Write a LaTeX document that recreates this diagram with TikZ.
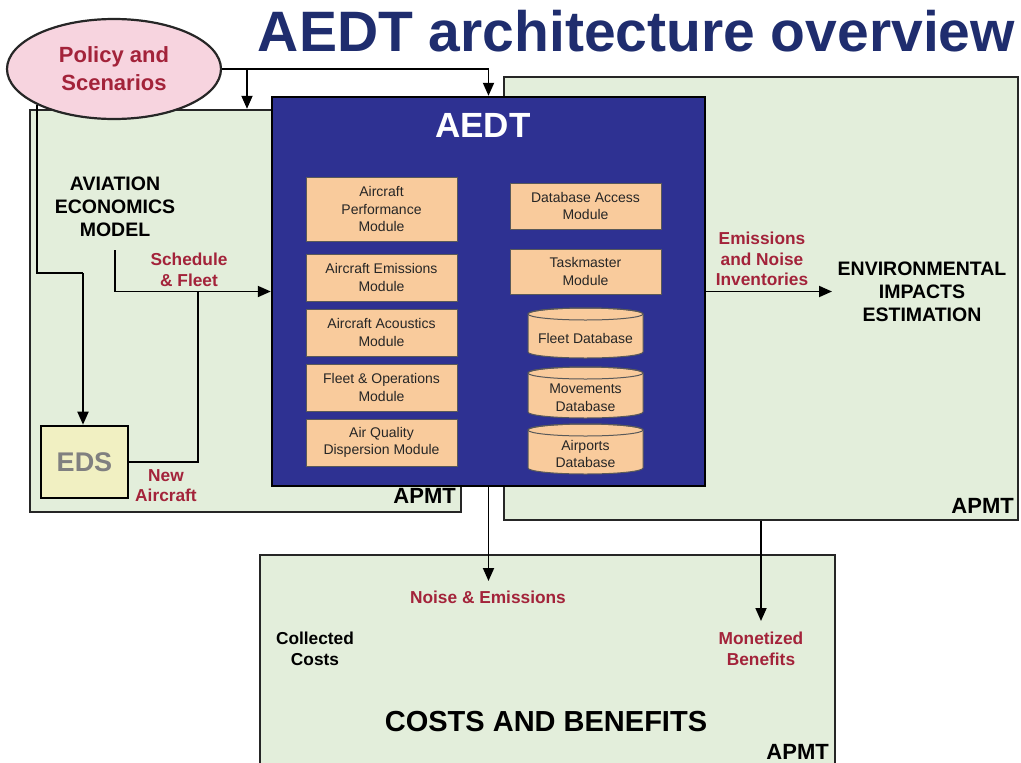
\documentclass[tikz,border=0pt]{standalone}
\usepackage{fontspec}
\setmainfont{Liberation Sans}
\usetikzlibrary{arrows.meta,shapes.geometric}
\definecolor{navy}{HTML}{1F2D6E}
\definecolor{aedtblue}{HTML}{2E3192}
\definecolor{peach}{HTML}{F9CB9C}
\definecolor{pale}{HTML}{E3EEDB}
\definecolor{pinkfill}{HTML}{F7D4DF}
\definecolor{darkred}{HTML}{A3233A}
\definecolor{edsfill}{HTML}{F1F0C2}
\newcommand{\dbcyl}[5]{%
  \draw[cylline] ({#1-57.5},{#2+6}) -- ({#1-57.5},{#3-6})
     arc[start angle=180,end angle=360,x radius=57.5pt,y radius=6pt]
     -- ({#1+57.5},{#2+6})
     arc[start angle=0,end angle=180,x radius=57.5pt,y radius=6pt] -- cycle;
  \draw[cylline,fill=none] ({#1},{#2+6}) ellipse[x radius=57.5pt,y radius=6pt];
  \node[dbtext] (#4) at ({#1},{(#2+#3)/2+5}) {#5};
}
\begin{document}
\begin{tikzpicture}[x=1pt,y=-1pt,
  apmtbox/.style={draw=black!85,line width=2.4pt,fill=pale,inner sep=0pt},
  aedtbox/.style={draw=black,line width=2.4pt,fill=aedtblue,inner sep=0pt},
  module/.style={draw=black!65,line width=1pt,fill=peach,inner sep=1pt,align=center,
     font=\fontsize{14}{17.5}\selectfont,text=black!85,minimum width=151pt},
  cylline/.style={draw=black!65,line width=1pt,fill=peach},
  dbtext/.style={align=center,font=\fontsize{14}{17.5}\selectfont,text=black!85,inner sep=0pt},
  redlab/.style={align=center,font=\bfseries\fontsize{17.3}{20.5}\selectfont,text=darkred,inner sep=1pt},
  blacklab/.style={align=center,font=\bfseries\fontsize{17.3}{20.5}\selectfont,text=black,inner sep=1pt},
  biglab/.style={align=center,font=\bfseries\fontsize{19.5}{23}\selectfont,text=black,inner sep=1pt},
  apmtlab/.style={anchor=east,font=\bfseries\fontsize{22}{24}\selectfont,text=black,inner sep=0pt},
  ln/.style={line width=1.8pt,draw=black},
  arr/.style={line width=1.8pt,draw=black,-{Triangle[length=13pt,width=11pt]}}
]
\useasboundingbox (0,0) rectangle (1021,763);
\clip (0,0) rectangle (1021,763);
\fill[white] (0,0) rectangle (1021,763);

% title
\node[font=\bfseries\fontsize{57}{60}\selectfont,text=navy,inner sep=0pt] (title) at (636.5,31) {AEDT architecture overview};

% big boxes
\node[apmtbox,minimum width=514pt,minimum height=443pt] (R) at (761,298.5) {};
\node[apmtbox,minimum width=431pt,minimum height=402pt] (L) at (245.5,311) {};
\node[apmtbox,minimum width=575pt,minimum height=225pt] (B) at (547.5,667.5) {};

% policy ellipse
\node[ellipse,draw=black!85,line width=2.2pt,fill=pinkfill,minimum width=214pt,minimum height=100pt,
      inner sep=0pt,align=center,font=\bfseries\fontsize{22}{28}\selectfont,text=darkred] (P) at (114,69) {Policy and\\Scenarios};

% AEDT box
\node[aedtbox,minimum width=433pt,minimum height=389pt] (A) at (488.5,291.5) {};
\node[font=\bfseries\fontsize{35}{38}\selectfont,text=white,inner sep=0pt] (At) at (483,125) {AEDT};

% modules
\node[module,minimum height=64pt] (m1) at (381.5,209) {Aircraft\\Performance\\Module};
\node[module,minimum height=47pt] (m2) at (381.5,277.5) {Aircraft Emissions\\Module};
\node[module,minimum height=47pt] (m3) at (381.5,332.5) {Aircraft Acoustics\\Module};
\node[module,minimum height=47pt] (m4) at (381.5,387.5) {Fleet \& Operations\\Module};
\node[module,minimum height=47pt] (m5) at (381.5,442.5) {Air Quality\\Dispersion Module};
\node[module,minimum height=46pt] (m6) at (585.5,206) {Database Access\\Module};
\node[module,minimum height=45pt] (m7) at (585.5,271.5) {Taskmaster\\Module};
\dbcyl{585.5}{308}{358}{db1}{Fleet Database}
\dbcyl{585.5}{367}{418}{db2}{Movements\\Database}
\dbcyl{585.5}{424}{474}{db3}{Airports\\Database}

% EDS
\node[draw=black,line width=2.6pt,fill=edsfill,minimum width=87pt,minimum height=72pt,inner sep=0pt,
      font=\bfseries\fontsize{27}{30}\selectfont,text=black!50] (E) at (84.5,462) {EDS};

% labels
\node[biglab,text depth=0pt] (AV) at (115,207) {AVIATION\\ECONOMICS\\MODEL};
\node[redlab] (SF) at (189,270) {Schedule\\\& Fleet};
\node[redlab] (NA) at (166,485.5) {New\\Aircraft};
\node[redlab] (EN) at (762,259) {Emissions\\and Noise\\Inventories};
\node[biglab,inner sep=2pt] (ENV) at (922,291.5) {ENVIRONMENTAL\\IMPACTS\\ESTIMATION};
\node[redlab] (NE) at (488,597) {Noise \& Emissions};
\node[blacklab] (CC) at (315,649) {Collected\\Costs};
\node[redlab] (MB) at (761,649) {Monetized\\Benefits};
\node[font=\bfseries\fontsize{29}{32}\selectfont,inner sep=0pt] (CB) at (546,722) {COSTS AND BENEFITS};
\node[apmtlab] (ap1) at (456,496) {APMT};
\node[apmtlab] (ap2) at (1014,506) {APMT};
\node[apmtlab] (ap3) at (829,752) {APMT};

% connectors
\coordinate (j1) at (247,69);
\draw[arr] (P.east) -| (A.north);
\draw[arr] (j1) -- (j1 |- L.north);
\coordinate (k1) at (83,273);
\draw[ln] (P.205.5) |- (k1);
\draw[arr] (k1) -- (k1 |- E.north);
\coordinate (s1) at (115,250);
\draw[arr] (s1) |- (A.west);
\coordinate (jn) at (198,291.5);
\draw[ln] (E.east) -| (jn);
\coordinate (t1) at (832,291.5);
\draw[arr] (A.east) -- (t1);
\coordinate (t2) at (488.5,581);
\draw[arr] (A.south) -- (t2);
\coordinate (t3) at (761,621);
\draw[arr] (R.south) -- (t3);
\end{tikzpicture}
\end{document}
